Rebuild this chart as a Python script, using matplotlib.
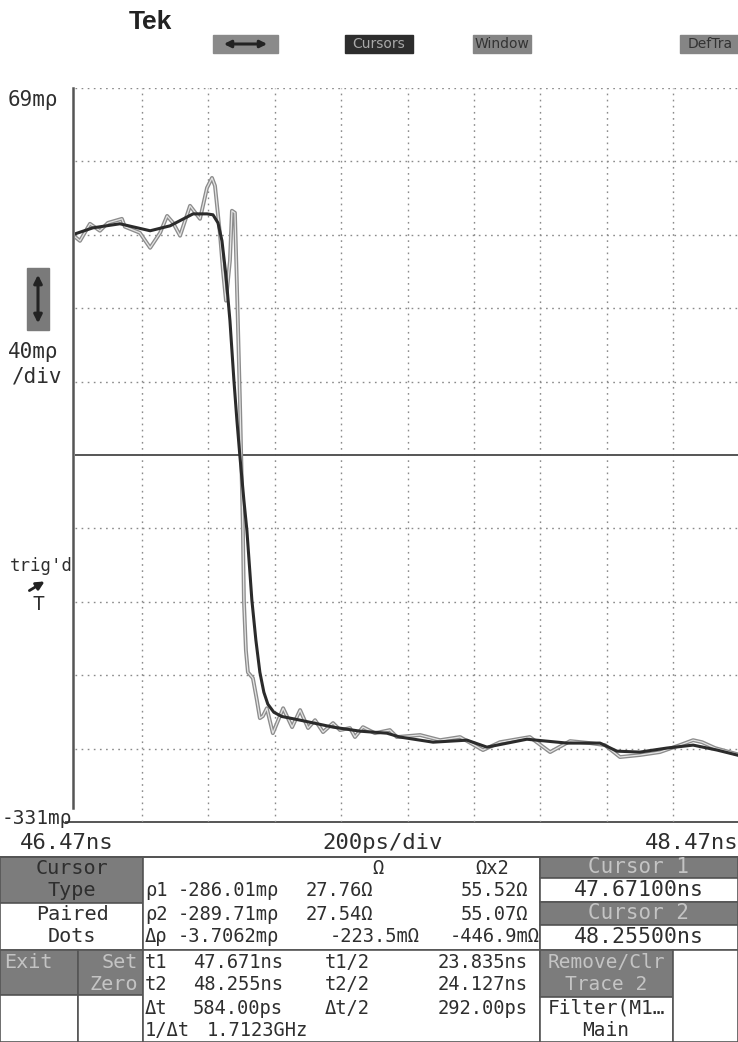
import numpy as np
import matplotlib.pyplot as plt
from matplotlib.patches import Rectangle

# traces: time in ns, reflection in milli-rho
t_filt = [46.470, 46.524, 46.605, 46.696, 46.756, 46.825, 46.867, 46.885, 46.900, 46.912,
          46.924, 46.936, 46.948, 46.957, 46.966, 46.978, 46.987, 47.002, 47.014, 47.026,
          47.038, 47.050, 47.068, 47.092, 47.147, 47.246, 47.327, 47.408, 47.447, 47.547,
          47.649, 47.709, 47.829, 47.950, 48.049, 48.100, 48.169, 48.250, 48.329, 48.401,
          48.461]
rho_filt = [-10.5, -7.2, -5.0, -8.8, -6.1, 0.4, 0.4, -0.1, -4.5, -14.3,
            -33.3, -57.8, -90.5, -112.2, -131.8, -155.8, -172.1, -210.2, -231.9, -249.4,
            -260.3, -266.8, -271.2, -273.5, -275.5, -279.3, -281.5, -282.6, -284.7, -287.5,
            -286.4, -290.2, -285.9, -288.0, -288.0, -292.4, -292.9, -290.7, -289.1, -291.8,
            -294.5]

t_raw = [46.470, 46.485, 46.515, 46.545, 46.569, 46.611, 46.620, 46.665, 46.696, 46.726,
         46.747, 46.765, 46.786, 46.816, 46.846, 46.867, 46.882, 46.891, 46.906, 46.915,
         46.924, 46.936, 46.942, 46.951, 46.957, 46.966, 46.975, 46.978, 46.984, 46.990,
         47.005, 47.017, 47.026, 47.035, 47.047, 47.065, 47.096, 47.123, 47.147, 47.171,
         47.192, 47.216, 47.246, 47.267, 47.297, 47.312, 47.336, 47.372, 47.417, 47.438,
         47.508, 47.568, 47.628, 47.697, 47.748, 47.838, 47.899, 47.959, 48.019, 48.064,
         48.109, 48.169, 48.229, 48.289, 48.329, 48.356, 48.395, 48.461]
rho_raw = [-12.1, -14.3, -5.0, -8.8, -4.5, -2.3, -6.6, -9.9, -18.1, -9.9,
           -0.7, -4.5, -11.5, 4.8, -2.3, 14.6, 20.0, 15.7, -10.5, -30.6,
           -46.9, -25.1, 2.1, 1.0, -38.8, -101.3, -172.1, -210.2, -237.4, -249.4,
           -252.6, -264.6, -274.4, -273.3, -269.0, -282.6, -269.0, -279.3, -270.0, -279.8,
           -275.5, -282.0, -277.1, -280.9, -279.8, -284.7, -279.3, -282.6, -280.9, -284.7,
           -283.6, -286.4, -284.7, -291.8, -287.5, -284.7, -292.9, -286.9, -288.0, -289.1,
           -295.6, -294.5, -292.9, -289.1, -286.4, -287.5, -290.7, -294.0]

t_left, t_div = 46.47, 0.2
rho_top, rho_div = 69, 40
n_div = 10

top_buttons = ['Cursors', 'Window', 'DefTra']
rho_header = ['Ω', 'Ωx2']
rho_rows = [['ρ1', '-286.01mρ', '27.76Ω', '55.52Ω'],
            ['ρ2', '-289.71mρ', '27.54Ω', '55.07Ω'],
            ['Δρ', '-3.7062mρ', '-223.5mΩ', '-446.9mΩ']]
t_rows = [['t1', '47.671ns', 't1/2', '23.835ns'],
          ['t2', '48.255ns', 't2/2', '24.127ns'],
          ['Δt', '584.00ps', 'Δt/2', '292.00ps']]
freq_row = ['1/Δt', '1.7123GHz']
cursor_pos = ['47.67100ns', '48.25500ns']

W, H = 738, 1042
MONO = 'DejaVu Sans Mono'
INK = '#2e2e2e'
BOX = '#7c7c7c'

fig = plt.figure(figsize=(W / 100, H / 100), dpi=100)
fig.patch.set_facecolor('white')

# full figure overlay in pixel coords for the screen furniture
bg = fig.add_axes([0, 0, 1, 1])
bg.set_xlim(0, W)
bg.set_ylim(H, 0)
bg.axis('off')

# plot area
x0, x1, y0, y1 = 75, 740, 88, 822
ax = fig.add_axes([x0 / W, 1 - y1 / H, (x1 - x0) / W, (y1 - y0) / H])
ax.set_xlim(t_left, t_left + n_div * t_div)
ax.set_ylim(rho_top - n_div * rho_div, rho_top)
ax.patch.set_alpha(0)
for s in ax.spines.values():
    s.set_visible(False)
ax.set_xticks([])
ax.set_yticks([])

dots = (0, (1.2, 3.2))
for k in range(1, n_div):
    ax.axvline(t_left + k * t_div, color='#8a8a8a', lw=1, ls=dots)
for k in range(0, n_div):
    if k == 5:
        ax.axhline(rho_top - k * rho_div, color='#555555', lw=1.4)
    else:
        ax.axhline(rho_top - k * rho_div, color='#8a8a8a', lw=1, ls=dots)

ax.plot(t_raw, rho_raw, color='#8c8c8c', lw=2.8)
ax.plot(t_raw, rho_raw, color='#e4e4e4', lw=0.9)
ax.plot(t_filt, rho_filt, color='#2b2b2b', lw=2.2)

# axis lines
bg.plot([73, 73], [88, 808], color='#555555', lw=1.8)
bg.plot([66, W], [822, 822], color='#555555', lw=1.4)

# top bar
bg.text(150, 22, 'Tek', fontsize=19, fontweight='bold', family='Liberation Sans',
        ha='center', va='center', color='#222222')
bg.add_patch(Rectangle((213, 35), 65, 18, color='#8a8a8a'))
bg.annotate('', xy=(270, 44), xytext=(221, 44),
            arrowprops=dict(arrowstyle='<|-|>', lw=2.2, color='#222222', mutation_scale=10))
for (bx, bw, fc, tc), label in zip([(345, 68, '#2d2d2d', '#a8a8a8'),
                                    (473, 58, '#858585', '#333333'),
                                    (680, 60, '#858585', '#333333')], top_buttons):
    bg.add_patch(Rectangle((bx, 35), bw, 18, color=fc))
    bg.text(bx + bw / 2, 44.5, label, fontsize=10, family='DejaVu Sans', ha='center',
            va='center', color=tc)

# left side labels
bg.text(8, 100, '69mρ', fontsize=15, family=MONO, color=INK, va='center')
bg.add_patch(Rectangle((27, 268), 22, 62, color='#7a7a7a'))
bg.annotate('', xy=(38, 272), xytext=(38, 326),
            arrowprops=dict(arrowstyle='<|-|>', lw=2.2, color='#222222', mutation_scale=12))
bg.text(8, 352, '40mρ', fontsize=15, family=MONO, color=INK, va='center')
bg.text(12, 376, '/div', fontsize=15, family=MONO, color=INK, va='center')
bg.text(10, 566, "trig'd", fontsize=12.5, family=MONO, color=INK, va='center')
bg.annotate('', xy=(47, 580), xytext=(27, 592),
            arrowprops=dict(arrowstyle='-|>', lw=2, color='#222222', mutation_scale=12))
bg.text(38, 604, 'T', fontsize=14, family=MONO, color=INK, va='center', ha='center')
bg.text(2, 818, '-331mρ', fontsize=14, family=MONO, color=INK, va='center')

# time labels
bg.text(20, 843, f'{t_left:.2f}ns', fontsize=16, family=MONO, color=INK, va='center')
bg.text(383, 843, f'{int(t_div * 1000)}ps/div', fontsize=16, family=MONO, color=INK,
        va='center', ha='center')
bg.text(W, 843, f'{t_left + n_div * t_div:.2f}ns', fontsize=16, family=MONO, color=INK,
        va='center', ha='right')

# readout table
edge = '#555555'
def box(x, y, w, h, dark):
    bg.add_patch(Rectangle((x, y), w, h, facecolor=BOX if dark else 'white',
                           edgecolor=edge, lw=1.2))

bg.plot([0, W], [857, 857], color=edge, lw=1.4)
box(0, 857, 143, 46, True)
box(0, 903, 143, 47, False)
box(0, 950, 78, 45, True)
box(78, 950, 65, 45, True)
box(0, 995, 78, 47, False)
box(78, 995, 65, 47, False)
box(143, 857, 397, 93, False)
box(143, 950, 397, 92, False)
box(540, 857, 198, 21, True)
box(540, 878, 198, 24, False)
box(540, 902, 198, 23, True)
box(540, 925, 198, 25, False)
box(540, 950, 133, 47, True)
box(540, 997, 133, 45, False)
box(673, 950, 65, 92, False)

fs = 13.5
def txt(x, y, s, ha='left', color=INK, size=fs):
    bg.text(x, y, s, fontsize=size, family=MONO, color=color, ha=ha, va='center')

row_y = [868, 891, 914, 937, 962, 985, 1008, 1031]
light = '#c4c4c4'
txt(72, row_y[0], 'Cursor', 'center', size=14.5)
txt(72, row_y[1], 'Type', 'center', size=14.5)
txt(72, row_y[2], 'Paired', 'center', size=14.5)
txt(72, row_y[3], 'Dots', 'center', size=14.5)
txt(4, row_y[4], 'Exit', color=light, size=14.5)
txt(138, row_y[4], 'Set', 'right', color=light, size=14.5)
txt(138, row_y[5], 'Zero', 'right', color=light, size=14.5)

txt(378, row_y[0], rho_header[0], 'center')
txt(492, row_y[0], rho_header[1], 'center')
for i, row in enumerate(rho_rows):
    y = row_y[1 + i]
    txt(145, y, row[0])
    txt(279, y, row[1], 'right')
    if i < 2:
        txt(373, y, row[2], 'right')
        txt(528, y, row[3], 'right')
    else:
        txt(420, y, row[2], 'right')
        txt(540, y, row[3], 'right')
for i, row in enumerate(t_rows):
    y = row_y[4 + i]
    txt(145, y, row[0])
    txt(283, y, row[1], 'right')
    txt(325, y, row[2])
    txt(528, y, row[3], 'right')
txt(145, row_y[7], freq_row[0])
txt(207, row_y[7], freq_row[1])

txt(639, 867, 'Cursor 1', 'center', color=light, size=15)
txt(639, 890, cursor_pos[0], 'center', size=15.5)
txt(639, 913, 'Cursor 2', 'center', color=light, size=15)
txt(639, 937, cursor_pos[1], 'center', size=15.5)
txt(606, row_y[4], 'Remove/Clr', 'center', color=light, size=14)
txt(606, row_y[5], 'Trace 2', 'center', color=light, size=14)
txt(606, row_y[6], 'Filter(M1…', 'center', size=14)
txt(606, row_y[7], 'Main', 'center', size=14)

fig.savefig('out.png', dpi=100)
